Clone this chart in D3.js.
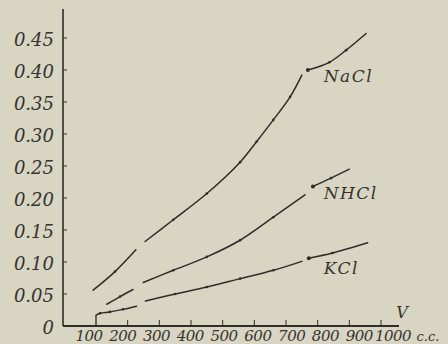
<!DOCTYPE html>
<html><head><meta charset="utf-8">
<script src="https://cdn.jsdelivr.net/npm/d3@7"></script>
<style>
html,body{margin:0;padding:0;background:#d8d5c2;}
svg{display:block;}
</style></head>
<body>
<script>
// ---- data (volume V in c.c., value) ----
const xTickValues = [100,200,300,400,500,600,700,800,900,1000];
const xTickLabels = ["100","200","300","400","500","600","700","800","900","1000"];
const yTickValues = [0,0.05,0.10,0.15,0.20,0.25,0.30,0.35,0.40,0.45];
const yTickLabels = ["0","0.05","0.10","0.15","0.20","0.25","0.30","0.35","0.40","0.45"];

const naclSeg1 = [[91,0.056],[160,0.085],[226,0.119]];
const naclSeg2 = [[255,0.132],[344,0.166],[450,0.207],[555,0.256],[607,0.288],[660,0.322],[713,0.358],[750,0.392]];
const naclSeg3 = [[769,0.400],[837,0.412],[890,0.431],[953,0.457]];

const nhclSeg1 = [[134,0.034],[176,0.046],[217,0.057]];
const nhclSeg2 = [[249,0.068],[344,0.087],[450,0.108],[555,0.134],[660,0.170],[760,0.205]];
const nhclSeg3 = [[785,0.218],[842,0.231],[900,0.245]];

const kclSeg1 = [[100,0.017],[113,0.020],[144,0.022],[185,0.026],[228,0.031]];
const kclSeg2 = [[256,0.039],[350,0.050],[450,0.061],[555,0.074],[660,0.087],[750,0.101]];
const kclSeg3 = [[772,0.106],[847,0.114],[958,0.130]];

const seriesNames = ["NaCl","NHCl","KCl"];
const labelAnchors = [[800,0.392],[800,0.210],[800,0.092]];

// ---- drawing ----
const W = 448, H = 344;
const ink = "#2e2d2a";
const txt = "#353430";
const svg = d3.select("body").append("svg").attr("width", W).attr("height", H);
svg.append("rect").attr("width", W).attr("height", H).attr("fill", "#d8d5c2");

const x = d3.scaleLinear().domain([100, 1000]).range([96, 381]);
const xLab = d3.scaleLinear().domain([100, 1000]).range([89, 393]);
const y = d3.scaleLinear().domain([0, 0.45]).range([326, 38]);

const axisX0 = 63, axisY0 = 326;

// axes lines
svg.append("line").attr("x1", axisX0).attr("x2", axisX0).attr("y1", 9).attr("y2", axisY0)
  .attr("stroke", ink).attr("stroke-width", 1.6);
svg.append("line").attr("x1", axisX0).attr("x2", 399).attr("y1", axisY0).attr("y2", axisY0)
  .attr("stroke", ink).attr("stroke-width", 1.8);

// y ticks
const gy = svg.append("g");
gy.selectAll("line").data(yTickValues.slice(1)).join("line")
  .attr("x1", axisX0).attr("x2", axisX0 + 4)
  .attr("y1", d => y(d)).attr("y2", d => y(d))
  .attr("stroke", ink).attr("stroke-width", 1);
gy.selectAll("text").data(yTickValues).join("text")
  .attr("x", 54).attr("y", d => y(d) + 8)
  .attr("text-anchor", "end")
  .attr("font-family", "DejaVu Serif").attr("font-style", "italic")
  .attr("font-size", 18).attr("fill", txt)
  .text((d, i) => yTickLabels[i]);

// x ticks
const gx = svg.append("g");
gx.selectAll("line").data(xTickValues.slice(1)).join("line")
  .attr("x1", d => x(d)).attr("x2", d => x(d))
  .attr("y1", axisY0).attr("y2", axisY0 - 6)
  .attr("stroke", ink).attr("stroke-width", 1);
gx.selectAll("text").data(xTickValues).join("text")
  .attr("x", d => xLab(d)).attr("y", 341)
  .attr("text-anchor", "middle")
  .attr("font-family", "DejaVu Serif").attr("font-style", "italic")
  .attr("font-size", 15).attr("letter-spacing", -0.5).attr("fill", txt)
  .text((d, i) => xTickLabels[i]);

svg.append("text").attr("x", 428).attr("y", 341).attr("text-anchor", "middle")
  .attr("font-family", "DejaVu Serif").attr("font-style", "italic")
  .attr("font-size", 13).attr("fill", txt).text("c.c.");
svg.append("text").attr("x", 402).attr("y", 318).attr("text-anchor", "middle")
  .attr("font-family", "DejaVu Serif").attr("font-style", "italic")
  .attr("font-size", 16).attr("fill", txt).text("V");

// curves
const line = d3.line().x(d => x(d[0])).y(d => y(d[1])).curve(d3.curveCatmullRom.alpha(0.5));
const segments = [naclSeg1, naclSeg2, naclSeg3, nhclSeg1, nhclSeg2, nhclSeg3, kclSeg1, kclSeg2, kclSeg3];
const gc = svg.append("g");
segments.forEach(seg => {
  gc.append("path").attr("d", line(seg)).attr("fill", "none")
    .attr("stroke", ink).attr("stroke-width", 1.5).attr("stroke-linecap", "round");
  gc.selectAll(null).data(seg.slice(1, -1)).join("circle")
    .attr("cx", d => x(d[0])).attr("cy", d => y(d[1])).attr("r", 1.3).attr("fill", ink);
});
// KCl start riser at 100
svg.append("line").attr("x1", x(kclSeg1[0][0])).attr("x2", x(kclSeg1[0][0]))
  .attr("y1", axisY0).attr("y2", y(kclSeg1[0][1])).attr("stroke", ink).attr("stroke-width", 1.3);
// heads of the last segments
[naclSeg3, nhclSeg3, kclSeg3].forEach(seg => {
  gc.append("circle").attr("cx", x(seg[0][0])).attr("cy", y(seg[0][1])).attr("r", 2).attr("fill", ink);
});

// series labels
svg.selectAll("text.lab").data(seriesNames).join("text").attr("class", "lab")
  .attr("x", (d, i) => x(labelAnchors[i][0]) + 6)
  .attr("y", (d, i) => y(labelAnchors[i][1]) + 7)
  .attr("font-family", "DejaVu Serif").attr("font-style", "italic")
  .attr("font-size", 17).attr("letter-spacing", 1.5).attr("fill", txt)
  .text(d => d);
</script>
</body></html>
